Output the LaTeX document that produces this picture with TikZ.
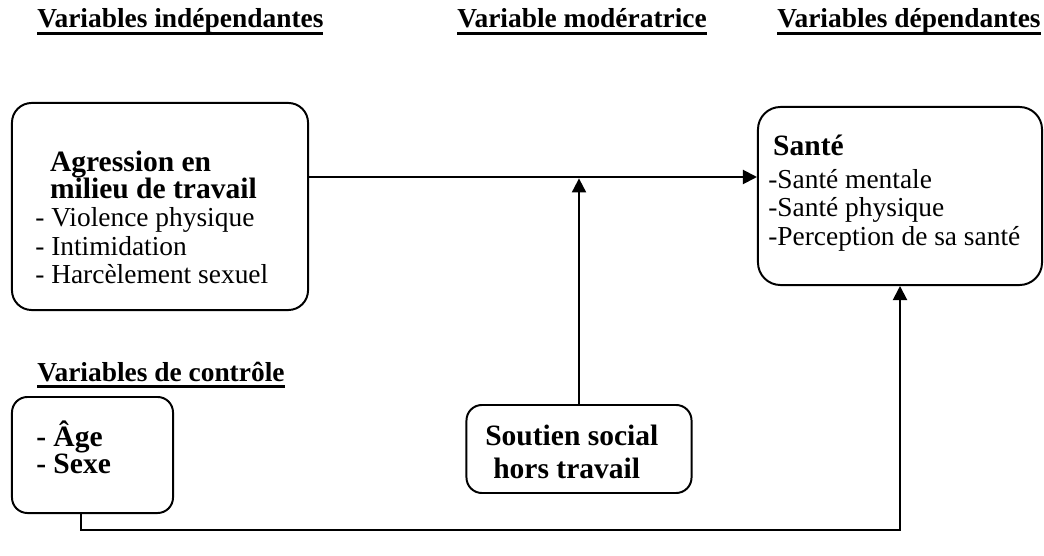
\documentclass[tikz,border=0pt]{standalone}
\usepackage{fontspec}
\setmainfont{Liberation Serif}
\usetikzlibrary{positioning,arrows.meta}
\newsavebox{\hdrbox}
\newcommand{\ulhead}[1]{\sbox{\hdrbox}{#1}\rlap{\vrule width\wd\hdrbox height -3.2pt depth 5.2pt}\usebox{\hdrbox}}
\newcommand{\bx}[1]{{\fontsize{21}{20}\selectfont\bfseries #1}}

\begin{document}
\begin{tikzpicture}[x=0.025cm,y=-0.025cm,
  box/.style={draw,line width=1.4pt,rounded corners=14pt,inner sep=0pt},
  txt/.style={align=left,inner sep=0pt,anchor=north west,font=\fontsize{19.5}{20}\selectfont},
  head/.style={inner sep=0pt,anchor=base west,font=\fontsize{19.5}{20}\selectfont\bfseries},
  arr/.style={line width=1.4pt,-{Triangle[length=10pt,width=10pt]}}]
\useasboundingbox (0,0) rectangle (1044,556);
% titres
\node[head] (hind) at (37,28) {\ulhead{Variables indépendantes}};
\node[head] (hmod) at (457,28) {\ulhead{Variable modératrice}};
\node[head] (hdep) at (777,28) {\ulhead{Variables dépendantes}};
\node[head] (hctl) at (37,381) {\ulhead{Variables de contrôle}};
% boites
\node[box,minimum width=7.4cm,minimum height=5.175cm] (agr) at (160,206.5) {};
\node[txt] (agrt) at (35,151) {\hspace*{10.5pt}\bx{Agression en}\\[-0.8pt]
  \hspace*{10.5pt}\bx{milieu de travail}\\
  - Violence physique\\
  - Intimidation\\
  - Harcèlement sexuel};
\node[box,minimum width=7.1cm,minimum height=4.45cm,rounded corners=16pt] (sante) at (900,196) {};
\node[txt] (santet) at (768,135) {\hspace*{3.5pt}\bx{Santé}\\[3.5pt]
  -Santé mentale\\
  -Santé physique\\
  -Perception de sa santé};
\node[box,minimum width=4.025cm,minimum height=2.9cm,rounded corners=11pt] (age) at (92.5,455) {};
\node[txt] (aget) at (36,421) {\bx{- Âge}\\[-0.8pt]
  \bx{- Sexe}};
\node[box,minimum width=5.625cm,minimum height=2.2cm,rounded corners=11pt] (sout) at (579,449) {};
\node[txt] (soutt) at (485,425) {\bx{Soutien social}\\[3.5pt]
  \hspace*{5.7pt}\bx{hors travail}};
% liens
\coordinate (hy) at (0,177);
\coordinate (by) at (81,530);
\draw[arr] (agr.east |- hy) -- (sante.west |- hy);
\draw[arr,shorten >=1pt] (sout.north) -- (sout.north |- hy);
\draw[arr] (age.south -| by) -- (by) -| (sante.south);
\end{tikzpicture}
\end{document}
